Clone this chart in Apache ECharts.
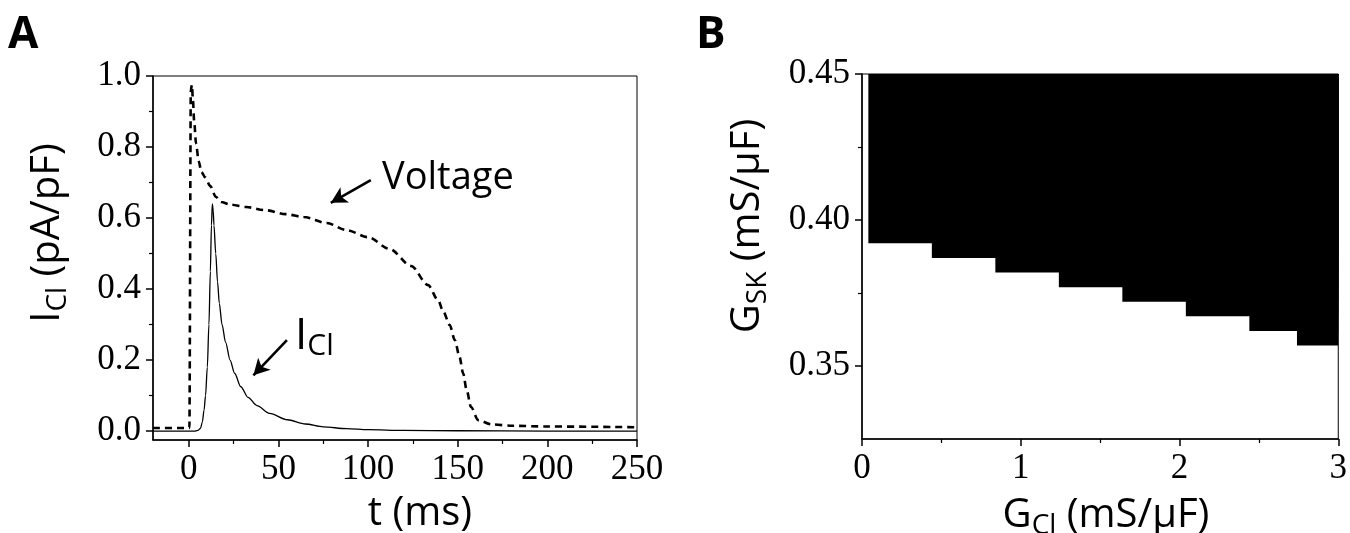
<!DOCTYPE html>
<html>
<head>
<meta charset="utf-8">
<script src="https://cdn.jsdelivr.net/npm/echarts@6/dist/echarts.min.js"></script>
<style>
  html, body { margin: 0; padding: 0; background: #fff; }
  #chart { width: 1350px; height: 533px; }
</style>
</head>
<body>
<div id="chart"></div>
<script>
// Panel A: voltage (dashed, scaled) and I_Cl traces
const tVolt = [-20, 0.3, 1.1, 1.7, 2.3, 3.0, 4.0, 5.5, 7, 9, 12, 15, 18, 23, 32, 43, 54, 64, 77, 88, 100, 112, 124, 133.5, 139, 142, 145.5, 148.4, 151, 153, 155, 157.4, 161.4, 168.8, 180.7, 200, 250];
const vVolt = [0.009, 0.009, 0.96, 0.975, 0.93, 0.87, 0.81, 0.76, 0.73, 0.715, 0.69, 0.66, 0.645, 0.638, 0.631, 0.622, 0.611, 0.603, 0.586, 0.566, 0.546, 0.513, 0.465, 0.411, 0.369, 0.336, 0.299, 0.256, 0.209, 0.163, 0.115, 0.068, 0.031, 0.019, 0.015, 0.013, 0.011];

const tIcl = [-20, 3, 5, 6.5, 7.5, 8.5, 9.3, 10.3, 11.2, 12, 12.6, 13.1, 13.6, 14, 15, 16, 17, 18.5, 20.5, 23, 25.5, 29, 33, 38, 45, 55, 65, 75, 88, 100, 120, 150, 200, 250];
const iIcl = [0, 0, 0.002, 0.008, 0.025, 0.06, 0.1, 0.18, 0.3, 0.45, 0.58, 0.64, 0.62, 0.58, 0.5, 0.42, 0.36, 0.3, 0.25, 0.2, 0.163, 0.125, 0.095, 0.072, 0.05, 0.032, 0.02, 0.012, 0.007, 0.004, 0.002, 0.001, 0, 0];

const aXTicks = [0, 50, 100, 150, 200, 250];
const aXMinor = [25, 75, 125, 175, 225];
const aYTicks = [0, 0.2, 0.4, 0.6, 0.8, 1.0];
const aYMinor = [0.1, 0.3, 0.5, 0.7, 0.9];

// Panel B: P2R region boundary (black above the staircase)
const gclStart = [0.04, 0.44, 0.84, 1.24, 1.64, 2.04, 2.44, 2.74];
const gskLower = [0.392, 0.387, 0.382, 0.377, 0.372, 0.367, 0.362, 0.357];
const gclMax = 3.0;
const gskTop = 0.45;

const bYTicks = [0.35, 0.40, 0.45];
const bYMinor = [0.375, 0.425];

const serif = "'Liberation Serif', 'Times New Roman', serif";
const sans = "'Open Sans', 'Noto Sans', sans-serif";

const zip = (a, b) => a.map((v, i) => [v, b[i]]);

const chart = echarts.init(document.getElementById('chart'));

const tickLabel = { color: '#000', fontFamily: serif, fontSize: 35 };
const axisLine = { show: true, onZero: false, lineStyle: { color: '#000', width: 1.5 } };
const noLine = { show: false, onZero: false };
const subRich = {
  m: { fontFamily: sans, fontSize: 40, lineHeight: 48, fill: '#000' },
  s: { fontFamily: sans, fontSize: 28, lineHeight: 20, verticalAlign: 'bottom', fill: '#000' }
};

chart.setOption({
  animation: false,
  backgroundColor: '#fff',
  grid: [
    { left: 153, top: 76, width: 484, height: 364, show: true, borderColor: '#000', borderWidth: 1 },
    { left: 862, top: 74, width: 484, height: 365, show: true, borderColor: '#000', borderWidth: 1 }
  ],
  xAxis: [
    {
      gridIndex: 0, type: 'value', min: -20, max: 250, position: 'bottom',
      axisLine, splitLine: { show: false },
      axisTick: { show: true, length: 7, customValues: aXTicks, lineStyle: { color: '#000', width: 1.5 } },
      axisLabel: { ...tickLabel, margin: 12, customValues: aXTicks }
    },
    {
      gridIndex: 0, type: 'value', min: -20, max: 250, position: 'bottom',
      axisLine: noLine, splitLine: { show: false }, axisLabel: { show: false },
      axisTick: { show: true, length: 4, customValues: aXMinor, lineStyle: { color: '#000', width: 1.2 } }
    },
    {
      gridIndex: 1, type: 'value', min: 0, max: 3, interval: 1, position: 'bottom',
      axisLine, splitLine: { show: false },
      axisTick: { show: true, length: 7, lineStyle: { color: '#000', width: 1.5 } },
      minorTick: { show: true, splitNumber: 2, length: 4, lineStyle: { color: '#000', width: 1.2 } },
      minorSplitLine: { show: false },
      axisLabel: { ...tickLabel, margin: 12 }
    }
  ],
  yAxis: [
    {
      gridIndex: 0, type: 'value', min: -0.025, max: 1.0, position: 'left',
      axisLine, splitLine: { show: false },
      axisTick: { show: true, length: 7, customValues: aYTicks, lineStyle: { color: '#000', width: 1.5 } },
      axisLabel: { ...tickLabel, margin: 12, customValues: aYTicks, formatter: v => v.toFixed(1) }
    },
    {
      gridIndex: 0, type: 'value', min: -0.025, max: 1.0, position: 'left',
      axisLine: noLine, splitLine: { show: false }, axisLabel: { show: false },
      axisTick: { show: true, length: 4, customValues: aYMinor, lineStyle: { color: '#000', width: 1.2 } }
    },
    {
      gridIndex: 1, type: 'value', min: 0.325, max: 0.45, position: 'left',
      axisLine, splitLine: { show: false },
      axisTick: { show: true, length: 7, customValues: bYTicks, lineStyle: { color: '#000', width: 1.5 } },
      axisLabel: { ...tickLabel, margin: 12, customValues: bYTicks, formatter: v => v.toFixed(2) }
    },
    {
      gridIndex: 1, type: 'value', min: 0.325, max: 0.45, position: 'left',
      axisLine: noLine, splitLine: { show: false }, axisLabel: { show: false },
      axisTick: { show: true, length: 4, customValues: bYMinor, lineStyle: { color: '#000', width: 1.2 } }
    }
  ],
  series: [
    {
      name: 'Voltage', type: 'line', xAxisIndex: 0, yAxisIndex: 0,
      data: zip(tVolt, vVolt), showSymbol: false, smooth: 0.3, smoothMonotone: 'x',
      lineStyle: { color: '#000', width: 2.6, type: [7, 5] }
    },
    {
      name: 'ICl', type: 'line', xAxisIndex: 0, yAxisIndex: 0,
      data: zip(tIcl, iIcl), showSymbol: false, smooth: 0.3, smoothMonotone: 'x',
      lineStyle: { color: '#000', width: 1.3 },
      markLine: {
        silent: true, symbol: ['none', 'arrow'], symbolSize: [13, 16],
        label: { show: false },
        lineStyle: { color: '#000', width: 2.6, type: 'solid' },
        data: [
          [{ coord: [101.5, 0.707] }, { coord: [79.2, 0.643] }],
          [{ coord: [54.7, 0.256] }, { coord: [36, 0.157] }]
        ]
      }
    },
    {
      // each block runs from its start to the right edge; together they form the staircase
      name: 'P2R', type: 'custom', xAxisIndex: 2, yAxisIndex: 2,
      data: gclStart.map((x0, i) => [x0, gclMax, gskTop, gskLower[i]]),
      encode: { x: [0, 1], y: [2, 3] },
      renderItem: (params, api) => {
        const p0 = api.coord([api.value(0), api.value(2)]);
        const p1 = api.coord([api.value(1), api.value(3)]);
        return {
          type: 'rect',
          shape: { x: p0[0], y: p0[1], width: p1[0] - p0[0], height: p1[1] - p0[1] },
          style: { fill: '#000' }
        };
      }
    }
  ],
  graphic: [
    { type: 'text', x: 8, y: 35, style: { text: 'A', font: `bold 44px ${sans}`, fill: '#000', textVerticalAlign: 'middle' } },
    { type: 'text', x: 696, y: 35, style: { text: 'B', font: `bold 44px ${sans}`, fill: '#000', textVerticalAlign: 'middle' } },
    { type: 'text', x: 420, y: 514, style: { text: 't (ms)', font: `40px ${sans}`, fill: '#000', textAlign: 'center', textVerticalAlign: 'middle' } },
    {
      type: 'text', x: 48, y: 233, rotation: Math.PI / 2,
      style: { text: '{m|I}{s|Cl}{m| (pA/pF)}', textAlign: 'center', textVerticalAlign: 'middle', rich: subRich }
    },
    {
      type: 'text', x: 748, y: 226, rotation: Math.PI / 2,
      style: { text: '{m|G}{s|SK}{m| (mS/μF)}', textAlign: 'center', textVerticalAlign: 'middle', rich: subRich }
    },
    {
      type: 'text', x: 1106, y: 516,
      style: { text: '{m|G}{s|Cl}{m| (mS/μF)}', textAlign: 'center', textVerticalAlign: 'middle', rich: subRich }
    },
    { type: 'text', x: 382, y: 178, style: { text: 'Voltage', font: `38px ${sans}`, fill: '#000', textVerticalAlign: 'middle' } },
    {
      type: 'text', x: 295, y: 336,
      style: {
        text: '{m|I}{s|Cl}', textVerticalAlign: 'middle',
        rich: {
          m: { fontFamily: sans, fontSize: 44, lineHeight: 50, fill: '#000' },
          s: { fontFamily: sans, fontSize: 30, lineHeight: 20, verticalAlign: 'bottom', fill: '#000' }
        }
      }
    },
    { type: 'text', x: 1100, y: 184, style: { text: 'P2R', font: `bold 56px ${sans}`, fill: '#fff', textAlign: 'center', textVerticalAlign: 'middle' } }
  ]
});
</script>
</body>
</html>
